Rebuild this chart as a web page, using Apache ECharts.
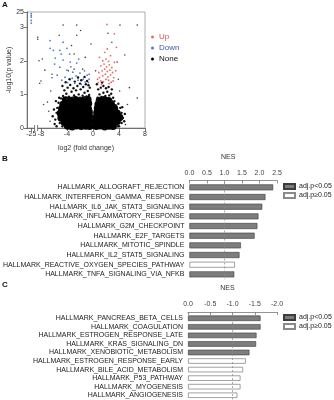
<!DOCTYPE html>
<html>
<head>
<meta charset="utf-8">
<script src="https://cdn.jsdelivr.net/npm/echarts@6/dist/echarts.min.js"></script>
<style>
  html, body { margin: 0; padding: 0; background: #fff; }
  #main { width: 334px; height: 400px; }
</style>
</head>
<body>
<div id="main"></div>
<script>
// ---- A: volcano plot, [log2 fold change, -log10 p] ----
const noneCore = [
  [-3.9,0.06],[-3.2,0.04],[-2.5,0.07],[-1.8,0.05],[-1.1,0.06],[-0.5,0.05],[0.5,0.05],[1.1,0.07],[1.8,0.04],[2.5,0.06],[3.1,0.05],
  [-4.4,0.17],[-3.7,0.19],[-3.0,0.18],[-2.3,0.16],[-1.6,0.19],[-0.95,0.18],[-0.5,0.2],[0.5,0.19],[1.0,0.17],[1.7,0.18],[2.4,0.2],[3.1,0.17],[3.7,0.19],
  [-4.9,0.3],[-4.2,0.32],[-3.5,0.31],[-2.8,0.3],[-2.1,0.33],[-1.4,0.31],[-0.8,0.3],[-0.55,0.34],[0.55,0.32],[0.9,0.3],[1.6,0.31],[2.3,0.33],[3.0,0.3],[3.6,0.32],[4.1,0.31],
  [-5.0,0.44],[-4.3,0.45],[-3.6,0.43],[-2.9,0.44],[-2.2,0.46],[-1.5,0.43],[-0.9,0.45],[-0.6,0.47],[0.6,0.45],[1.0,0.44],[1.7,0.46],[2.4,0.43],[3.1,0.45],[3.7,0.44],
  [-4.8,0.57],[-4.1,0.58],[-3.4,0.56],[-2.7,0.58],[-2.0,0.57],[-1.3,0.59],[-0.7,0.56],[0.7,0.58],[1.3,0.56],[2.0,0.58],[2.7,0.57],[3.3,0.58],
  [-4.6,0.7],[-3.9,0.71],[-3.2,0.69],[-2.5,0.72],[-1.8,0.7],[-1.1,0.71],[-0.7,0.73],[0.8,0.7],[1.4,0.72],[2.1,0.69],[2.8,0.71],
  [-4.2,0.83],[-3.4,0.82],[-2.7,0.84],[-2.0,0.81],[-1.3,0.83],[-0.8,0.85],[1.0,0.82],[1.7,0.84],[2.4,0.81]
];
const noneScatter = [
  [-4.6,0.95],[-4.1,1.02],[-3.7,0.93],[-3.3,1.08],[-2.9,0.97],[-2.6,1.12],[-2.2,1.0],[-1.9,1.15],[-1.6,0.96],[-1.3,1.05],
  [-1.0,0.94],[-0.8,1.1],[-0.6,0.98],[-0.5,1.2],[-4.4,1.12],[-3.9,1.2],[-3.5,1.28],[-3.0,1.18],[-2.4,1.25],[-2.0,1.32],
  [-1.5,1.22],[-1.1,1.3],[-0.7,1.27],[-4.9,0.88],[-4.7,1.25],[-4.2,1.36],[-2.8,1.38],[-1.8,1.42],[-0.9,1.4],[-3.6,1.45],
  [-2.3,1.5],[-1.3,1.52],[-4.0,0.88],[-3.1,0.9],[-2.0,0.9],[-1.2,0.9],[-0.5,0.88],
  [0.7,0.9],[1.0,1.0],[1.3,0.92],[1.6,1.05],[1.9,0.95],[2.2,1.08],[2.5,0.97],[2.8,1.02],[3.1,0.9],[0.8,1.15],[1.2,1.2],
  [1.6,1.25],[2.0,1.18],[2.4,1.22],[2.9,1.15],[0.6,1.3],[1.4,1.35],[3.3,0.8],[3.5,0.68],[2.9,0.8],[0.6,0.8],
  [-5.8,0.25],[-5.6,0.45],[-5.5,0.6],[-5.3,0.75],[-5.9,0.12],[-5.2,0.9],[-5.6,0.05],[-4.7,0.05],[-5.1,0.15],[-6.2,0.35],
  [-6.0,0.55],[-5.7,0.8],
  [4.0,0.05],[4.4,0.15],[4.6,0.3],[4.4,0.45],[4.2,0.6],[3.9,0.72],[4.8,0.2],[4.9,0.42],[3.8,0.05],[4.5,0.62]
];
const noneSparse = [
  [-7.8,2.05],[-8.0,1.4],[-7.6,0.7],[-8.2,1.33],[-7.4,1.72],[-7.0,0.77],[-8.5,2.64],[-8.3,2.0],
  [-4.6,3.06],[-2.5,3.06],[4.15,3.06],[6.8,3.06],[-5.2,2.76],[-2.5,2.76],[2.3,2.82],[-8.5,2.7],
  [6.8,0.89],[3.7,1.96],[4.9,2.17],[-6.5,1.1],[-6.8,0.5],[-6.3,1.6],[5.3,0.7],[5.6,1.2],[4.1,1.1],
  [-3.8,1.7],[-1.6,1.75],[-0.6,1.6],[-2.9,2.2],[-1.2,2.1],[0.4,1.7],[3.9,1.45],[-0.3,2.5],[-3.3,2.45],
  [5.0,0.1],[-6.6,0.2],[2.9,2.55],[-1.9,2.9]
];
const downPoints = [
  [-25,20],[-25,14],[-25,3.3],[-25.1,3.2],[-24.9,3.12],
  [-6.6,2.37],[-6.1,2.31],[-5.1,2.31],[-4.0,2.37],[-5.8,2.08],[-4.6,2.02],[-3.5,1.96],[-2.5,1.93],[-5.1,1.81],
  [-4.0,1.72],[-3.1,1.66],[-2.0,1.63],[-0.9,1.57],[-5.5,1.57],[-4.3,1.51],[-3.2,1.48],[-2.3,1.42],[-1.2,1.37],
  [-4.8,1.42],[-2.8,1.33],[-6.6,2.6],[-4.6,2.55],[-3.6,2.2],[-2.2,2.05],[-1.5,1.45],[-0.7,1.35],[-5.9,1.9],
  [-3.9,1.35],[-1.8,1.3],[-2.6,1.55],[-3.4,1.82],[-4.9,2.2],[-6.3,1.5],[-1.3,1.7],[-0.6,1.45],[-2.9,1.75]
];
const upPoints = [
  [0.8,1.35],[1.2,1.4],[1.6,1.38],[2.0,1.45],[2.4,1.42],[2.8,1.36],[3.1,1.4],[1.0,1.5],[1.5,1.55],[1.9,1.6],
  [2.3,1.52],[2.7,1.58],[3.2,1.5],[0.9,1.65],[1.4,1.7],[1.8,1.75],[2.2,1.68],[2.6,1.72],[3.0,1.65],[1.2,1.85],
  [1.7,1.9],[2.1,1.82],[2.5,1.88],[2.9,1.8],[1.5,2.0],[2.0,2.05],[2.4,1.98],[3.3,1.95],[1.0,2.1],[2.7,2.15],
  [1.8,2.25],[3.6,2.4],[2.2,2.35],[0.7,1.45],[3.5,1.7],[1.3,1.3],[2.5,1.32],[2.15,3.08],[3.3,2.8]
];
const volcanoXTicks = [-25, -8, -4, 0, 4, 8];
const volcanoYTicks = [0, 1, 2, 3, 25];

// ---- B: positively enriched hallmarks ----
const bPathways = [
  'HALLMARK_ALLOGRAFT_REJECTION', 'HALLMARK_INTERFERON_GAMMA_RESPONSE', 'HALLMARK_IL6_JAK_STAT3_SIGNALING',
  'HALLMARK_INFLAMMATORY_RESPONSE', 'HALLMARK_G2M_CHECKPOINT', 'HALLMARK_E2F_TARGETS',
  'HALLMARK_MITOTIC_SPINDLE', 'HALLMARK_IL2_STAT5_SIGNALING', 'HALLMARK_REACTIVE_OXYGEN_SPECIES_PATHWAY',
  'HALLMARK_TNFA_SIGNALING_VIA_NFKB'
];
const bNes = [2.39, 2.17, 2.08, 1.97, 1.94, 1.86, 1.47, 1.43, 1.30, 1.28];
const bSignificant = [true, true, true, true, true, true, true, true, false, true];

// ---- C: negatively enriched hallmarks ----
const cPathways = [
  'HALLMARK_PANCREAS_BETA_CELLS', 'HALLMARK_COAGULATION', 'HALLMARK_ESTROGEN_RESPONSE_LATE',
  'HALLMARK_KRAS_SIGNALING_DN', 'HALLMARK_XENOBIOTIC_METABOLISM', 'HALLMARK_ESTROGEN_RESPONSE_EARLY',
  'HALLMARK_BILE_ACID_METABOLISM', 'HALLMARK_P53_PATHWAY', 'HALLMARK_MYOGENESIS', 'HALLMARK_ANGIOGENESIS'
];
const cNes = [-1.63, -1.63, -1.54, -1.53, -1.38, -1.30, -1.24, -1.18, -1.18, -1.11];
const cSignificant = [true, true, true, true, true, false, false, false, false, false];

// broken axes: -25 squeezed next to -8, 25 squeezed on top of 3
const toAxisX = x => (x < -8.5 ? -9.5 + (x + 25) * 0.03 : x);
const toAxisY = y => (y > 3.4 ? 3.45 - (25 - y) * 0.01 : y);
const mapPts = pts => pts.map(p => [toAxisX(p[0]), toAxisY(p[1])]);
const xTickPos = volcanoXTicks.map(toAxisX);
const yTickPos = volcanoYTicks.map(toAxisY);

const FONT = 'Liberation Sans, Arial, sans-serif';
const SIG = 'adj.p<0.05';
const NS = 'adj.p\u22650.05';
const darkBar = { color: '#7d7d7d', borderColor: '#3c3c3c', borderWidth: 0.6 };
const whiteBar = { color: '#ffffff', borderColor: '#8a8a8a', borderWidth: 0.8 };

const split = (vals, sig, keep) => vals.map((v, i) => (sig[i] === keep ? v : '-'));

const dashed = xv => ({
  silent: true, symbol: 'none', label: { show: false },
  lineStyle: { type: [2, 2], color: '#8a8a8a', width: 0.7 },
  data: [{ xAxis: xv }]
});

const nesAxis = (grid, min, max, inverse) => ({
  gridIndex: grid, type: 'value', position: 'top', offset: 2,
  min: min, max: max, interval: 0.5, inverse: inverse,
  name: 'NES', nameLocation: 'middle', nameGap: 20,
  nameTextStyle: { fontSize: 7, color: '#333', fontFamily: FONT, padding: [0, 10, 0, 0] },
  axisLine: { show: true, lineStyle: { color: '#777', width: 0.8 } },
  axisTick: { show: true, inside: true, length: 3, lineStyle: { color: '#777', width: 0.8 } },
  axisLabel: { fontSize: 7, color: '#444', margin: 4, fontFamily: FONT, formatter: v => v.toFixed(1) },
  splitLine: { show: false }
});

const pathAxis = (grid, names) => ({
  gridIndex: grid, type: 'category', data: names, inverse: true,
  axisLine: { show: false }, axisTick: { show: false },
  axisLabel: { interval: 0, fontSize: 7, color: '#222', margin: 5, fontFamily: FONT }
});

const barLegend = top => ({
  left: 283, top: top, padding: 0, orient: 'vertical', icon: 'rect',
  itemWidth: 11, itemHeight: 5, itemGap: 2,
  textStyle: { fontSize: 7, color: '#222', fontFamily: FONT, padding: [0, 0, 0, -1] },
  data: [SIG, NS]
});

const chart = echarts.init(document.getElementById('main'), null, { renderer: 'canvas' });

const option = {
  animation: false,
  backgroundColor: '#fff',
  textStyle: { fontFamily: FONT },
  grid: [
    { left: 27, right: 189, top: 12, bottom: 272, show: true, borderColor: '#9a9a9a', borderWidth: 0.8 },
    { left: 188, right: 57, top: 182.5, bottom: 120.8 },
    { left: 188, right: 57, top: 314, bottom: 0.5 }
  ],
  xAxis: [
    {
      gridIndex: 0, type: 'value', min: -10.15, max: 8,
      name: 'log2 (fold change)', nameLocation: 'middle', nameGap: 17,
      nameTextStyle: { fontSize: 7, color: '#333', fontFamily: FONT },
      axisLine: { show: true, onZero: false, lineStyle: { color: '#555', width: 0.8 } },
      axisTick: { show: true, length: 3, customValues: xTickPos, lineStyle: { color: '#555', width: 0.8 } },
      axisLabel: {
        fontSize: 7, color: '#333', margin: 3, fontFamily: FONT, customValues: xTickPos,
        formatter: v => String(volcanoXTicks[xTickPos.findIndex(t => Math.abs(t - v) < 1e-6)])
      },
      splitLine: { show: false }
    },
    nesAxis(1, 0, 2.5, false),
    nesAxis(2, -2, 0, true)
  ],
  yAxis: [
    {
      gridIndex: 0, type: 'value', min: 0, max: 3.45,
      name: '-log10(p value)', nameLocation: 'middle', nameGap: 13,
      nameTextStyle: { fontSize: 7, color: '#333', fontFamily: FONT },
      axisLine: { show: true, onZero: false, lineStyle: { color: '#555', width: 0.8 } },
      axisTick: { show: true, length: 3, customValues: yTickPos, lineStyle: { color: '#555', width: 0.8 } },
      axisLabel: {
        fontSize: 7, color: '#333', margin: 3, fontFamily: FONT, customValues: yTickPos,
        formatter: v => String(volcanoYTicks[yTickPos.findIndex(t => Math.abs(t - v) < 1e-6)])
      },
      splitLine: { show: false }
    },
    pathAxis(1, bPathways),
    pathAxis(2, cPathways)
  ],
  legend: [
    {
      left: 151, top: 33, padding: 0, orient: 'vertical', icon: 'circle', itemWidth: 3, itemHeight: 3, itemGap: 3,
      textStyle: { fontSize: 8, fontFamily: FONT },
      data: [
        { name: 'Up', textStyle: { color: '#d9534f' } },
        { name: 'Down', textStyle: { color: '#3b5cb5' } },
        { name: 'None', textStyle: { color: '#111' } }
      ]
    },
    barLegend(183),
    barLegend(314)
  ],
  series: [
    { name: 'None', type: 'scatter', xAxisIndex: 0, yAxisIndex: 0, symbolSize: 7.5, silent: true,
      itemStyle: { color: '#000', opacity: 1 }, data: mapPts(noneCore) },
    { name: 'None', type: 'scatter', xAxisIndex: 0, yAxisIndex: 0, symbolSize: 2.4, silent: true,
      itemStyle: { color: '#111', opacity: 1 }, data: mapPts(noneScatter) },
    { name: 'None', type: 'scatter', xAxisIndex: 0, yAxisIndex: 0, symbolSize: 1.6, silent: true,
      itemStyle: { color: '#444', opacity: 1 }, data: mapPts(noneSparse) },
    { name: 'Down', type: 'scatter', xAxisIndex: 0, yAxisIndex: 0, symbolSize: 1.8, silent: true,
      itemStyle: { color: '#4f7cc9', opacity: 1 }, data: mapPts(downPoints) },
    { name: 'Up', type: 'scatter', xAxisIndex: 0, yAxisIndex: 0, symbolSize: 1.8, silent: true,
      itemStyle: { color: '#e56b66', opacity: 1 }, data: mapPts(upPoints) },

    { name: SIG, type: 'bar', xAxisIndex: 1, yAxisIndex: 1, stack: 'b', barWidth: 6,
      itemStyle: darkBar, data: split(bNes, bSignificant, true), markLine: dashed(1.0) },
    { name: NS, type: 'bar', xAxisIndex: 1, yAxisIndex: 1, stack: 'b', barWidth: 6,
      itemStyle: whiteBar, data: split(bNes, bSignificant, false) },

    { name: SIG, type: 'bar', xAxisIndex: 2, yAxisIndex: 2, stack: 'c', barWidth: 5.5,
      itemStyle: darkBar, data: split(cNes, cSignificant, true), markLine: dashed(-1.0) },
    { name: NS, type: 'bar', xAxisIndex: 2, yAxisIndex: 2, stack: 'c', barWidth: 5.5,
      itemStyle: whiteBar, data: split(cNes, cSignificant, false) }
  ]
};

chart.setOption(option);

// panel letters and the "||" break mark on the volcano x axis
const breakX = chart.convertToPixel({ gridIndex: 0 }, [-8.75, 0]);
const panelText = (t, x, y) => ({
  type: 'text', left: x, top: y,
  style: { text: t, font: 'bold 8px ' + FONT, fill: '#111' }
});
chart.setOption({
  graphic: [
    panelText('A', 2, 1),
    panelText('B', 2, 155),
    panelText('C', 2, 281),
    { type: 'rect', shape: { x: breakX[0] - 1.5, y: breakX[1] - 3, width: 3, height: 6 },
      style: { fill: '#fff' }, z: 100 },
    { type: 'line', shape: { x1: breakX[0] - 1.5, y1: breakX[1] - 3, x2: breakX[0] - 1.5, y2: breakX[1] + 3 },
      style: { stroke: '#555', lineWidth: 0.8 }, z: 101 },
    { type: 'line', shape: { x1: breakX[0] + 1.5, y1: breakX[1] - 3, x2: breakX[0] + 1.5, y2: breakX[1] + 3 },
      style: { stroke: '#555', lineWidth: 0.8 }, z: 101 }
  ]
});
</script>
</body>
</html>
